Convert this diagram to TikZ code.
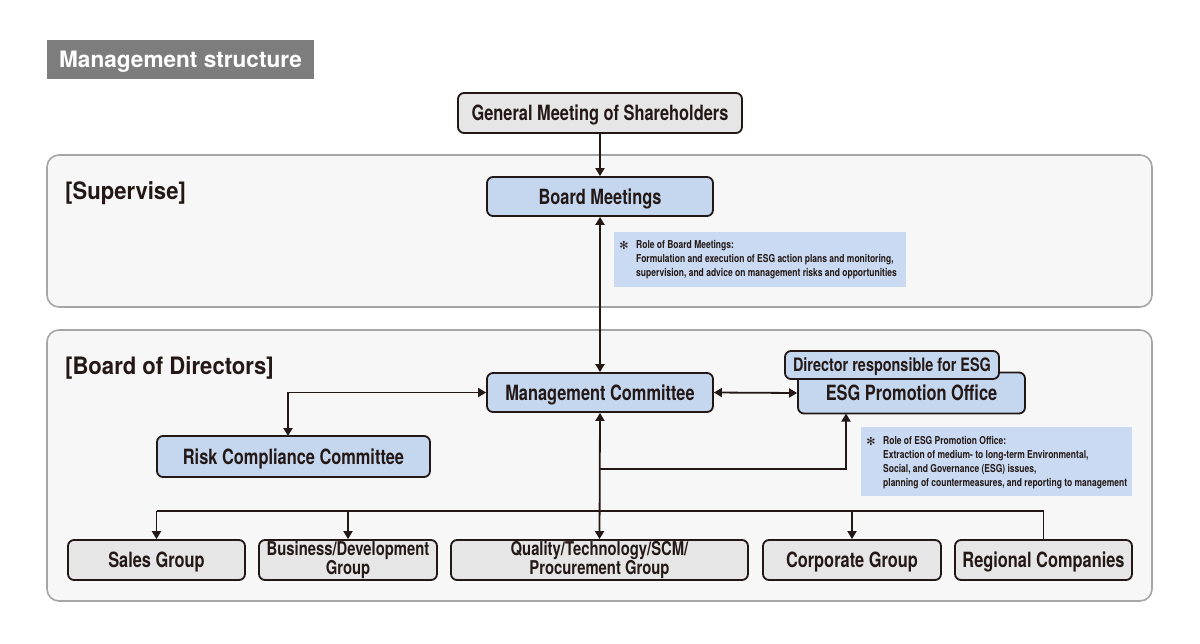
\documentclass[tikz,border=0pt]{standalone}
\usepackage{fontspec}
\setmainfont{TeX Gyre Heros}
\newfontfamily\cond{TeX Gyre Heros}[FakeStretch=0.78]
\newfontfamily\headf{TeX Gyre Heros}[FakeStretch=0.92]
\newfontfamily\symf{DejaVu Sans}
\usetikzlibrary{arrows.meta,calc}
\definecolor{edge}{HTML}{231815}
\definecolor{bluefill}{HTML}{C5D6EF}
\definecolor{notefill}{HTML}{C9DAF2}
\definecolor{grayfill}{HTML}{E6E6E6}
\definecolor{panelfill}{HTML}{F7F7F7}
\definecolor{panelline}{HTML}{A6A6A6}
\definecolor{titlefill}{HTML}{7D7D7D}
\tikzset{
  basebox/.style={draw=edge, line width=1.8pt, rounded corners=6pt, inner sep=0pt,
    font=\cond\bfseries\fontsize{21}{22}\selectfont, text=edge, align=center},
  box/.style={basebox, text height=15pt, text depth=0pt},
  bluebox/.style={box, fill=bluefill},
  graybox/.style={box, fill=grayfill},
  twobox/.style={basebox, fill=grayfill, font=\cond\bfseries\fontsize{19}{17.5}\selectfont},
  panel/.style={draw=panelline, fill=panelfill, line width=1.6pt, rounded corners=12pt},
  conn/.style={draw=edge, line width=1.8pt},
  tip/.style={-{Triangle[length=8pt,width=9pt]}},
  bitip/.style={{Triangle[length=8pt,width=9pt]}-{Triangle[length=8pt,width=9pt]}},
  notetext/.style={font=\cond\bfseries\fontsize{10.9}{14}\selectfont, text=edge, align=left, inner sep=0pt},
  notestar/.style={font=\symf\fontsize{11}{12}\selectfont, text=edge, inner sep=0pt},
  heading/.style={font=\headf\bfseries\fontsize{24}{26}\selectfont, text=edge, inner sep=0pt}
}
\begin{document}
\begin{tikzpicture}[x=1pt,y=-1pt]
\useasboundingbox (0,0) rectangle (1200,643);
\fill[white] (0,0) rectangle (1200,643);
% title
\node[fill=titlefill, minimum width=267pt, minimum height=39pt, inner sep=0pt,
  font=\bfseries\fontsize{22.6}{24}\selectfont, text=white, text height=16pt, text depth=0pt] (title) at (180.5,59.5) {Management structure};
% panels
\draw[panel] (47,155) rectangle (1152,307);
\draw[panel] (47,330) rectangle (1152,601);
\node[heading, anchor=base west] (hsup) at (65,199) {[Supervise]};
\node[heading, anchor=base west] (hbod) at (65,374) {[Board of Directors]};
% nodes
\node[graybox, minimum width=284pt, minimum height=40pt] (gm) at (600,113) {General Meeting of Shareholders};
\node[bluebox, minimum width=226pt, minimum height=39pt] (bm) at (600,196.5) {Board Meetings};
\node[bluebox, minimum width=226pt, minimum height=39pt] (mc) at (600,392.5) {Management Committee};
\node[bluebox, minimum width=227pt, minimum height=41pt] (esg) at (911.5,393) {ESG Promotion Office};
\node[bluebox, minimum width=214pt, minimum height=28pt, text height=13pt, font=\cond\bfseries\fontsize{18.5}{19}\selectfont] (dir) at (892,365) {Director responsible for ESG};
\node[bluebox, minimum width=273pt, minimum height=41pt] (rc) at (293.5,456.5) {Risk Compliance Committee};
\node[graybox, minimum width=177pt, minimum height=40pt] (sales) at (156.5,560) {Sales Group};
\node[twobox, minimum width=178pt, minimum height=40pt] (bus) at (348,560) {Business/Development\\Group};
\node[twobox, minimum width=297pt, minimum height=40pt] (qual) at (599.5,560) {Quality/Technology/SCM/\\Procurement Group};
\node[graybox, minimum width=178pt, minimum height=40pt] (corp) at (852,560) {Corporate Group};
\node[graybox, minimum width=177pt, minimum height=40pt] (reg) at (1043.5,560) {Regional Companies};
% notes
\node[fill=notefill, minimum width=292pt, minimum height=55pt, inner sep=0pt, anchor=north west] (note1) at (614,232) {};
\node[notestar] (star1) at (624,245) {✻};
\node[notetext, anchor=north west] (nt1) at (636,240) {Role of Board Meetings:\\Formulation and execution of ESG action plans and monitoring,\\supervision, and advice on management risks and opportunities};
\node[fill=notefill, minimum width=271pt, minimum height=69pt, inner sep=0pt, anchor=north west] (note2) at (861,427) {};
\node[notestar] (star2) at (871,441) {✻};
\node[notetext, anchor=north west] (nt2) at (883,436) {Role of ESG Promotion Office:\\Extraction of medium- to long-term Environmental,\\Social, and Governance (ESG) issues,\\planning of countermeasures, and reporting to management};
% connectors
\coordinate (busl) at (156.5,511);
\coordinate (busr) at (1043.5,511);
\coordinate (branch) at (600,469);
\coordinate (esgin) at (846,413.5);
\coordinate (rcin) at (288,436);
\draw[conn, tip] (gm.south) -- (bm.north);
\draw[conn, bitip] (bm.south) -- (mc.north);
\draw[conn, bitip] (mc.east) -- (esg.west);
\draw[conn, bitip] (mc.west) -| (rcin);
\draw[conn, bitip] (mc.south) -- (qual.north);
\draw[conn, tip] (branch) -| (esgin);
\draw[conn] (busl) -- (busr);
\draw[conn, tip] (busl) -- (sales.north);
\draw[conn, tip] (bus.north |- busl) -- (bus.north);
\draw[conn, tip] (corp.north |- busl) -- (corp.north);
\draw[conn] (busr) -- (reg.north);
\end{tikzpicture}
\end{document}
